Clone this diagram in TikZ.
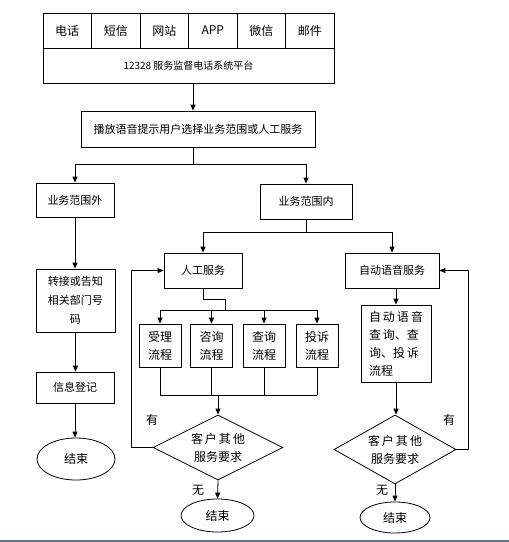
\documentclass[tikz,border=0pt]{standalone}
\usepackage{fontspec}
\newfontfamily\cjk{Noto Sans CJK SC}
\usetikzlibrary{arrows.meta,shapes.geometric}
\definecolor{barcolor}{RGB}{96,117,138}

\begin{document}
\begin{tikzpicture}[x=1pt, y=-1pt, >={Triangle[length=6pt,width=5pt]}, line width=0.8pt,
  every node/.style={font=\cjk\fontsize{11}{13}\selectfont, inner sep=1pt},
  box/.style={draw, rectangle, align=center},
  cell/.style={box, minimum width=48.5pt, minimum height=35pt, font=\cjk\fontsize{12}{14}\selectfont},
  flow/.style={box, minimum width=42pt, minimum height=43pt, font=\cjk\fontsize{12}{18}\selectfont},
  decide/.style={draw, diamond, aspect=2, inner sep=0pt, align=center, font=\cjk\fontsize{12}{18}\selectfont},
  stop/.style={draw, ellipse, inner sep=0pt, font=\cjk\fontsize{12}{14}\selectfont},
  note/.style={font=\cjk\fontsize{12}{14}\selectfont}]

  \useasboundingbox (0,0) rectangle (509,542);

  % channels and platform
  \foreach \name [count=\i] in {电话,短信,网站,APP,微信,邮件}
    \node[cell] (c\i) at ({43+48.5*\i-24.25},30.5) {\name};
  \node[box, minimum width=291pt, minimum height=35pt, font=\cjk\fontsize{10}{12}\selectfont] (plat) at (188.5,65.5) {12328 服务监督电话系统平台};
  \node[box, minimum width=234pt, minimum height=36pt] (voice) at (198,129) {播放语音提示用户选择业务范围或人工服务};

  % outside
  \node[box, minimum width=78pt, minimum height=34pt] (outb) at (75,200) {业务范围外};
  \node[box, minimum width=79pt, minimum height=63pt, font=\cjk\fontsize{11}{19}\selectfont] (transfer) at (75.5,300.5) {转接或告知\\相关部门号\\码};
  \node[box, minimum width=78pt, minimum height=31pt] (record) at (75,387.5) {信息登记};
  \node[stop, minimum width=78pt, minimum height=42pt] (end1) at (76,459) {结束};

  % inside, manual
  \node[box, minimum width=92pt, minimum height=35pt] (inb) at (306,201.5) {业务范围内};
  \node[box, minimum width=78pt, minimum height=35pt] (manual) at (203,270.5) {人工服务};
  \foreach \name/\x [count=\i] in {受理/160,咨询/211.5,查询/264,投诉/317}
    \node[flow] (p\i) at (\x,345.5) {\name\\流程};
  \node[decide, minimum width=130pt, minimum height=65pt] (d1) at (218,447.5) {客\,户\,其\,他\\服务要求};
  \node[stop, minimum width=73pt, minimum height=33pt] (end2) at (217.5,515.5) {结束};

  % inside, automatic
  \node[box, minimum width=94pt, minimum height=35pt] (auto) at (392,270.5) {自动语音服务};
  \node[box, minimum width=70pt, minimum height=77pt, align=left, font=\cjk\fontsize{12}{18}\selectfont] (autoflow) at (396,343.5) {自\,动\,语\,音\\查\,询、查\\询、投\,诉\\流程};
  \node[decide, minimum width=122pt, minimum height=69pt] (d2) at (395,449.5) {客\,户\,其\,他\\服务要求};
  \node[stop, minimum width=70pt, minimum height=31pt] (end3) at (395,517.5) {结束};

  \node[note] (yes1) at (152,420) {有};
  \node[note] (no1) at (198,490) {无};
  \node[note] (yes2) at (449,420) {有};
  \node[note] (no2) at (382,490) {无};

  \coordinate (split1) at (193,164);
  \coordinate (fork) at (225,310);
  \coordinate (join) at (218,395);

  \draw[->] ([xshift=4.5pt]plat.south) -- ([xshift=-5pt]voice.north);
  \draw (voice.south -| split1) -- (split1);
  \draw[->] (split1) -| (outb.north);
  \draw[->] (split1) -| (inb.north);

  \draw[->] (outb.south) -- (outb.south |- transfer.north);
  \draw[->] (transfer.south) -- (transfer.south |- record.north);
  \draw[->] (record.south) -- (record.south |- end1.north);

  \draw (inb.south) -- ++(0,13) coordinate (split2);
  \draw[->] (split2) -| (manual.north);
  \draw[->] (split2) -| (auto.north);

  \draw (manual.south) -- ++(0,11) -| (fork);
  \draw (p1.north |- fork) -- (p4.north |- fork);
  \foreach \i in {1,...,4} {
    \draw[->] (p\i.north |- fork) -- (p\i.north);
    \draw (p\i.south) -- (p\i.south |- join);
  }
  \draw (p1.south |- join) -- (p4.south |- join);
  \draw[->] (join) -- (d1.north);
  \draw[->] (d1.west) -- ++(-21,0) |- (manual.west);
  \draw[->] (d1.south) -- (end2.north);

  \draw[->] (auto.south -| autoflow.north) -- (autoflow.north);
  \draw[->] (autoflow.south) -- (autoflow.south |- d2.north);
  \draw[->] (d2.south) -- (end3.north);
  \draw[->] (d2.east) -- ++(12,0) |- (auto.east);

  \fill[barcolor] (0,540) rectangle (509,542);
\end{tikzpicture}
\end{document}
